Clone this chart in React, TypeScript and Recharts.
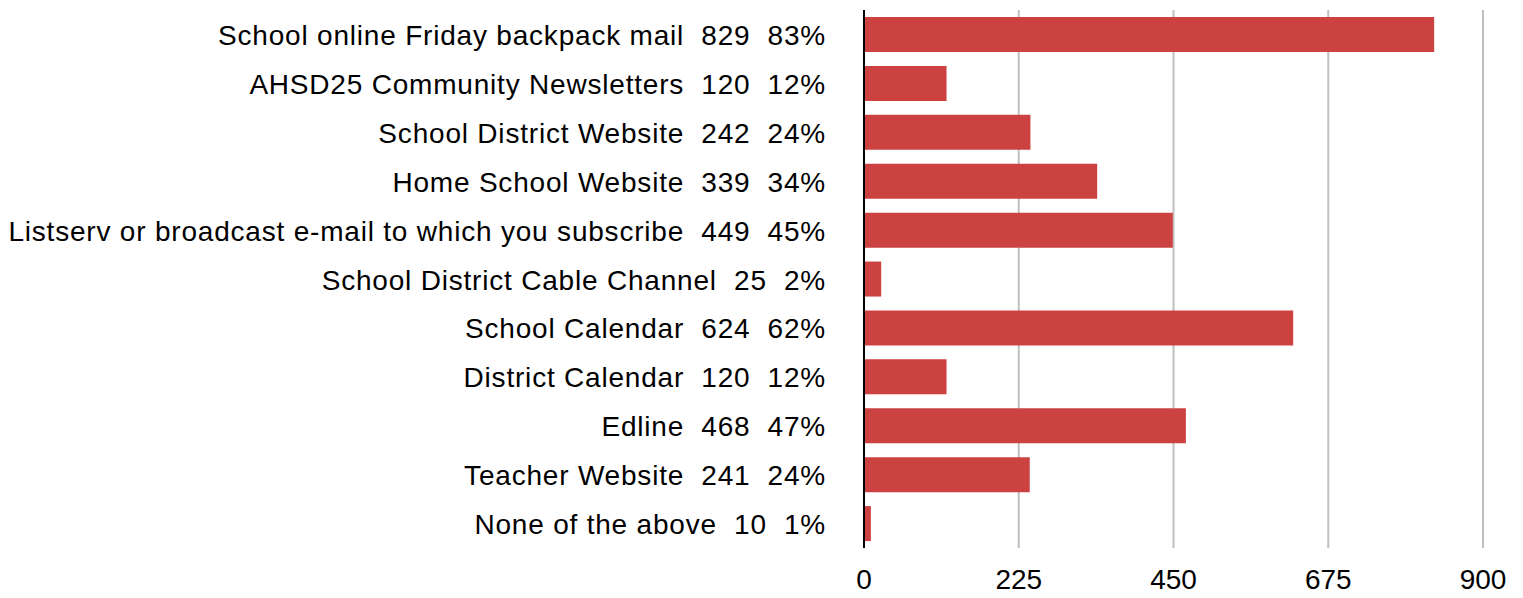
import { BarChart, Bar, XAxis, YAxis, CartesianGrid } from "recharts";

const categories = [
  "School online Friday backpack mail",
  "AHSD25 Community Newsletters",
  "School District Website",
  "Home School Website",
  "Listserv or broadcast e-mail to which you subscribe",
  "School District Cable Channel",
  "School Calendar",
  "District Calendar",
  "Edline",
  "Teacher Website",
  "None of the above",
];
const counts = [829, 120, 242, 339, 449, 25, 624, 120, 468, 241, 10];
const percents = [83, 12, 24, 34, 45, 2, 62, 12, 47, 24, 1];
const xTicks = [0, 225, 450, 675, 900];

const data = categories.map((name, i) => ({ name, count: counts[i], pct: percents[i] }));

const FONT = "'Liberation Sans', Arial, Helvetica, sans-serif";

// label = name, count and percent, separated by two spaces
function CategoryTick(props: any) {
  const { x, y, payload } = props;
  const i = categories.indexOf(payload.value);
  const label = `${payload.value}  ${counts[i]}  ${percents[i]}%`;
  return (
    <text x={x} y={y + 1} textAnchor="end" dominantBaseline="central"
          fontSize={28} letterSpacing={0.8} fontFamily={FONT} fill="#000"
          style={{ whiteSpace: "pre" }}>
      {label}
    </text>
  );
}

function ValueTick(props: any) {
  const { x, y, payload } = props;
  return (
    <text x={x} y={y} textAnchor="middle" dominantBaseline="central"
          fontSize={28} fontFamily={FONT} fill="#000">
      {payload.value}
    </text>
  );
}

export default function App() {
  return (
    <div style={{ position: "absolute", left: 0, top: 0, background: "#fff" }}>
      <BarChart width={1523} height={598} data={data} layout="vertical"
                margin={{ top: 10, right: 40, bottom: 0, left: 0 }}>
        <CartesianGrid horizontal={false} stroke="#c0c0c0" strokeWidth={2} />
        <XAxis type="number" domain={[0, 900]} ticks={xTicks} axisLine={false}
               tickLine={false} tickSize={0} tickMargin={31} height={50}
               tick={<ValueTick />} interval={0} />
        <YAxis type="category" dataKey="name" width={864} axisLine={{ stroke: "#000", strokeWidth: 2 }}
               tickLine={false} tickSize={0} tickMargin={38} interval={0}
               tick={<CategoryTick />} />
        <Bar dataKey="count" fill="#cc4240" barSize={35} isAnimationActive={false} />
      </BarChart>
    </div>
  );
}
